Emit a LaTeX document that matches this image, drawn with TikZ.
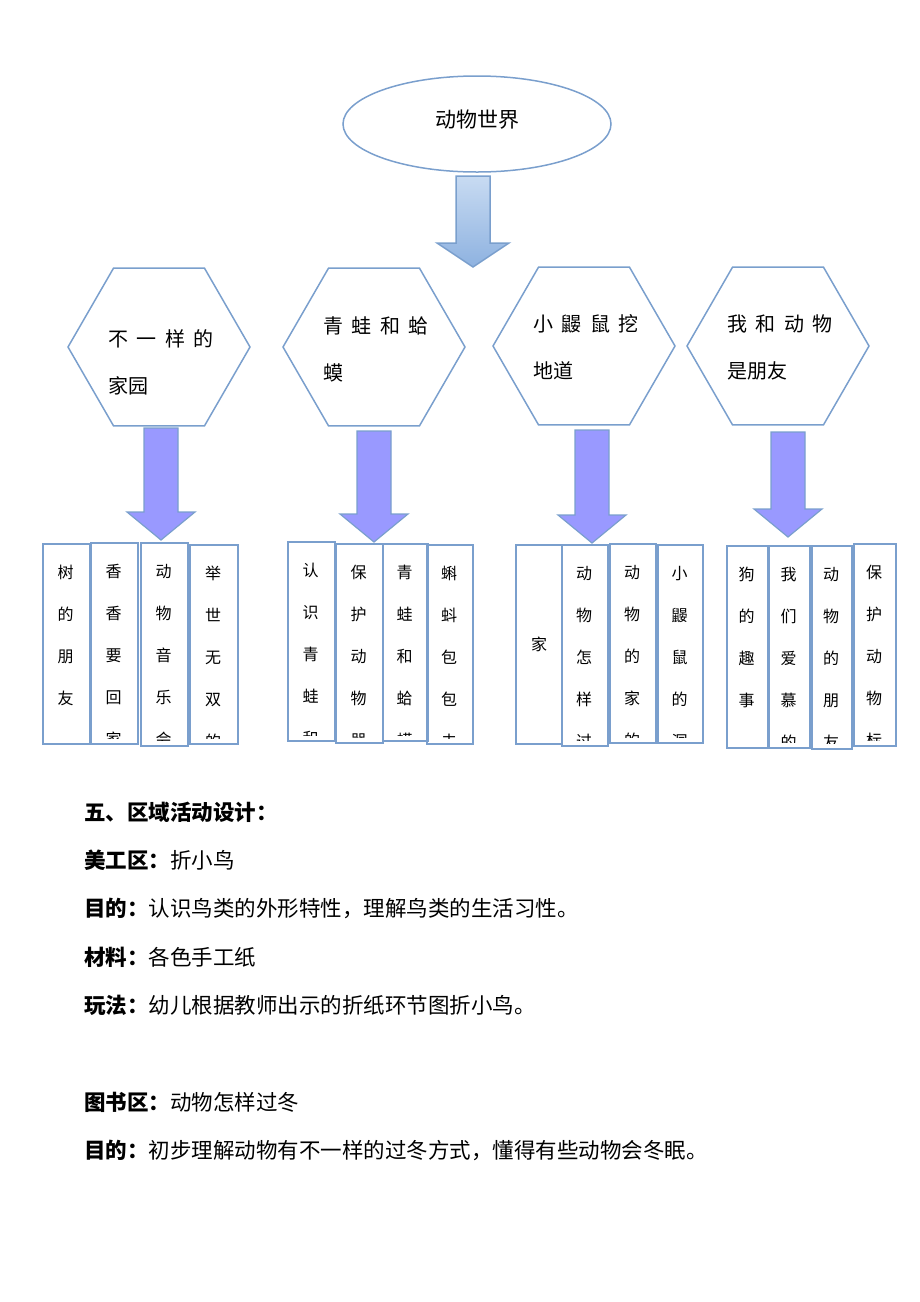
\documentclass[tikz,border=0pt]{standalone}
\usepackage{fontspec}
\setmainfont{Noto Sans CJK SC}
\usetikzlibrary{shapes.geometric}

\definecolor{lineblue}{RGB}{122,159,205}
\definecolor{arrowpurple}{RGB}{153,153,255}
\definecolor{topblue}{RGB}{200,219,242}
\definecolor{botblue}{RGB}{142,178,224}

\begin{document}
\begin{tikzpicture}
        [x=1pt, y=-1pt,
        every node/.style={inner sep=0pt},
        outline/.style={draw=lineblue, line width=1.5pt},
        hexa/.style={outline, regular polygon, regular polygon sides=6, minimum size=182pt},
        hextext/.style={font=\fontsize{20}{47}\selectfont, align=left, anchor=west},
        colbox/.style={draw=lineblue, line width=2.2pt, anchor=north west},
        coltext/.style={font=\fontsize{16}{42}\selectfont, align=center, anchor=north},
        downarrow/.style={draw=lineblue, line width=1.2pt, fill=arrowpurple},
        bodytext/.style={font=\fontsize{21.5}{21.5}\selectfont, anchor=west}]

    \useasboundingbox (0,0) rectangle (920,1302);

    % top of the map
    \node[outline, ellipse, minimum width=268pt, minimum height=96pt] (world) at (477,124) {};
    \node[font=\fontsize{21}{21}\selectfont] (worldtext) at (477,120) {动物世界};

    \draw[outline, top color=topblue, bottom color=botblue]
      (456,176) -- (490,176) -- (490,243) -- (509,243) -- (473,267)
      -- (437,243) -- (456,243) -- cycle;

    % the four themes
    \node[hexa] (hexhome) at (159,347) {};
    \node[hexa] (hexfrog) at (374,347) {};
    \node[hexa] (hexmole) at (584,346) {};
    \node[hexa] (hexfriend) at (778,346) {};

    \node[hextext] (homelabel) at (108,362) {不\hspace{8.5pt}一\hspace{8.5pt}样\hspace{8.5pt}的\\家园};
    \node[hextext] (froglabel) at (323,349) {青\hspace{8.5pt}蛙\hspace{8.5pt}和\hspace{8.5pt}蛤\\蟆};
    \node[hextext] (molelabel) at (533,347) {小\hspace{8.5pt}鼹\hspace{8.5pt}鼠\hspace{8.5pt}挖\\地道};
    \node[hextext] (friendlabel) at (727,347) {我\hspace{8.5pt}和\hspace{8.5pt}动\hspace{8.5pt}物\\是朋友};

    \foreach \cx/\ya/\tip in {161/428/540, 374/431/542, 592/430/543, 788/432/537}
      \draw[downarrow] (\cx-17,\ya) -- (\cx+17,\ya) -- (\cx+17,\tip-28) -- (\cx+34,\tip-28)
        -- (\cx,\tip) -- (\cx-34,\tip-28) -- (\cx-17,\tip-28) -- cycle;

    % the activity columns
    \foreach \nm/\xa/\ya/\xb/\yb/\txt in {
        tree/42/543/89/743/{树\\的\\朋\\友},
        xiang/90/542/137/743/{香\\香\\要\\回\\家},
        music/140/542/187/745/{动\\物\\音\\乐\\会},
        unique/189/544/237/743/{举\\世\\无\\双\\的},
        knowfrog/287/541/334/740/{认\\识\\青\\蛙\\和},
        protect/335/543/382/742/{保\\护\\动\\物\\器},
        frogtoad/382/543/427/740/{青\\蛙\\和\\蛤\\蟆},
        tadpole/426/544/472/743/{蝌\\蚪\\包\\包\\去},
        winter/561/544/607/745/{动\\物\\怎\\样\\过},
        animhome/609/543/655/742/{动\\物\\的\\家\\的},
        mole/657/544/702/742/{小\\鼹\\鼠\\的\\洞},
        dog/726/545/767/747/{狗\\的\\趣\\事},
        adore/768/545/809/747/{我\\们\\爱\\慕\\的},
        animfriend/811/545/851/748/{动\\物\\的\\朋\\友},
        protsign/853/543/895/745/{保\\护\\动\\物\\标}}
    {
      \node[colbox, minimum width={\xb pt-\xa pt}, minimum height={\yb pt-\ya pt}] (\nm) at (\xa,\ya) {};
      \begin{scope}
        \clip (\xa,\ya) rectangle (\xb,\yb-5);
        \node[coltext] (\nm text) at (\xa/2+\xb/2,\ya+22) {\txt};
      \end{scope}
    }

    \node[colbox, minimum width=46pt, minimum height=199pt] (home) at (515,544) {};
    \node[font=\fontsize{16}{16}\selectfont] (hometext) at (home.center) {家};

    % area activities
    \node[bodytext] (title) at (84,812) {\bfseries 五、区域活动设计：};
    \node[bodytext] (art) at (84,860) {{\bfseries 美工区：}折小鸟};
    \node[bodytext] (artaim) at (84,908) {{\bfseries 目的：}认识鸟类的外形特性，理解鸟类的生活习性。};
    \node[bodytext] (artstuff) at (84,957) {{\bfseries 材料：}各色手工纸};
    \node[bodytext] (artplay) at (84,1005) {{\bfseries 玩法：}幼儿根据教师出示的折纸环节图折小鸟。};
    \node[bodytext] (book) at (84,1102) {{\bfseries 图书区：}动物怎样过冬};
    \node[bodytext] (bookaim) at (84,1150) {{\bfseries 目的：}初步理解动物有不一样的过冬方式，懂得有些动物会冬眠。};
\end{tikzpicture}
\end{document}
